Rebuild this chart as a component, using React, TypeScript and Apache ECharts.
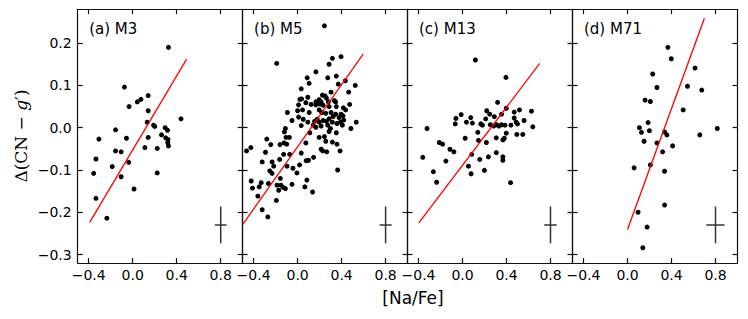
import React, { useEffect, useRef } from "react";
import * as echarts from "echarts";

const panelLabels = ["(a) M3", "(b) M5", "(c) M13", "(d) M71"];
const xTicks = [-0.4, 0, 0.4, 0.8];
const yTicks = [-0.3, -0.2, -0.1, 0, 0.1, 0.2];
const xRange = [-0.5, 1.0];
const yRange = [-0.32, 0.28];

const m3Data = [
  [0.325, 0.19], [-0.075, 0.096], [0.141, 0.076], [0.075, 0.067], [0.042, 0.061], [-0.033, 0.05],
  [0.141, 0.04], [0.439, 0.021], [0.132, 0.013], [0.19, 0.006], [0.2, 0.003], [0.295, 0.0],
  [0.316, -0.006], [-0.156, -0.005], [-0.307, -0.027], [-0.057, -0.025], [0.141, -0.023],
  [0.262, -0.017], [0.3, -0.024], [0.32, -0.028], [0.319, -0.035], [0.325, -0.043], [0.111, -0.047],
  [0.223, -0.049], [-0.156, -0.055], [-0.105, -0.057], [-0.334, -0.074], [-0.036, -0.082],
  [-0.186, -0.092], [-0.105, -0.116], [-0.355, -0.108], [0.223, -0.107], [0.012, -0.145],
  [-0.334, -0.167], [-0.235, -0.214],
];

const m5Data = [
  [0.244, 0.241], [0.316, 0.164], [0.395, 0.168],
  [-0.19, 0.152], [0.286, 0.15], [0.166, 0.132], [0.087, 0.118], [0.274, 0.118], [0.352, 0.122],
  [0.105, 0.105], [0.37, 0.103], [0.434, 0.111], [0.524, 0.1], [0.033, 0.092], [0.304, 0.084],
  [0.464, 0.084], [0.093, 0.072], [0.021, 0.067], [0.036, 0.068], [0.226, 0.077], [0.25, 0.075],
  [0.262, 0.07], [0.196, 0.066], [0.166, 0.061], [0.214, 0.061], [0.202, 0.056], [0.28, 0.061],
  [0.334, 0.064], [0.346, 0.061], [0.075, 0.059], [0.009, 0.054], [0.123, 0.055], [0.166, 0.054],
  [0.232, 0.053], [0.286, 0.05], [0.473, 0.055], [0.352, 0.05], [0.416, 0.047], [0.437, 0.042],
  [0.0, 0.04], [0.045, 0.042], [0.105, 0.036], [-0.093, 0.036], [0.196, 0.042], [0.22, 0.036],
  [0.256, 0.034], [0.304, 0.036], [0.346, 0.032], [0.395, 0.032], [0.322, 0.026], [0.377, 0.024],
  [0.413, 0.028], [0.009, 0.025], [0.051, 0.02], [-0.051, 0.017], [0.093, 0.013], [0.178, 0.02],
  [0.154, 0.015], [0.196, 0.013], [0.232, 0.017], [0.262, 0.015], [0.286, 0.021], [0.316, 0.013],
  [0.358, 0.01], [0.389, 0.013], [0.419, 0.018], [0.533, 0.013], [0.033, 0.005], [0.142, 0.006],
  [0.166, 0.001], [0.214, 0.004], [0.274, 0.006], [0.298, -0.002], [0.407, 0.006], [0.485, -0.002],
  [-0.111, -0.002], [-0.12, -0.01], [0.111, -0.012], [0.286, -0.009], [0.352, -0.012],
  [-0.105, -0.023], [-0.075, -0.023], [0.196, -0.023], [0.244, -0.021], [-0.28, -0.027],
  [-0.123, -0.036], [-0.099, -0.039], [-0.16, -0.04], [0.075, -0.036], [0.256, -0.032],
  [0.316, -0.034], [0.358, -0.039], [-0.244, -0.04], [-0.425, -0.047], [0.214, -0.051],
  [-0.464, -0.055], [-0.292, -0.058], [-0.127, -0.063], [-0.072, -0.063], [0.033, -0.06],
  [0.229, -0.055], [0.265, -0.057], [0.386, -0.055], [-0.163, -0.075], [0.145, -0.07],
  [0.099, -0.077], [0.078, -0.078], [-0.322, -0.081], [-0.232, -0.081], [-0.096, -0.091],
  [-0.042, -0.096], [0.018, -0.088], [-0.217, -0.091], [-0.253, -0.102], [-0.232, -0.108],
  [-0.006, -0.107], [0.364, -0.1], [-0.422, -0.126], [-0.331, -0.13], [-0.265, -0.132],
  [-0.157, -0.12], [-0.151, -0.136], [-0.051, -0.134], [0.084, -0.124], [-0.187, -0.136],
  [-0.41, -0.143], [-0.349, -0.14], [-0.133, -0.141], [-0.111, -0.144], [0.066, -0.14],
  [0.136, -0.152], [-0.172, -0.148], [-0.361, -0.162], [-0.193, -0.172], [-0.322, -0.194],
  [-0.271, -0.211],
];

const m13Data = [
  [0.117, 0.16], [0.395, 0.119],
  [0.319, 0.06], [0.398, 0.046], [0.518, 0.042], [-0.012, 0.031], [0.075, 0.024], [-0.06, 0.022],
  [-0.066, 0.009], [0.22, 0.04], [0.247, 0.032], [0.211, 0.021], [0.289, 0.026], [0.355, 0.032],
  [0.47, 0.037], [0.47, 0.023], [0.627, 0.039], [0.036, 0.013], [0.09, 0.011], [0.166, 0.009],
  [0.181, 0.006], [0.253, 0.007], [0.283, 0.004], [0.307, 0.007], [0.331, 0.004], [0.355, 0.007],
  [0.386, 0.006], [0.44, 0.006], [0.488, 0.013], [0.5, 0.009], [0.56, 0.017], [0.639, 0.002],
  [0.139, -0.011], [0.398, -0.013], [0.494, -0.016], [0.548, -0.016], [-0.322, -0.002],
  [0.024, -0.025], [0.145, -0.03], [0.217, -0.035], [0.307, -0.024], [0.367, -0.029],
  [0.38, -0.025], [-0.211, -0.035], [-0.181, -0.039], [-0.114, -0.051], [-0.078, -0.057],
  [-0.361, -0.07], [-0.151, -0.079], [0.084, -0.063], [0.157, -0.075], [0.235, -0.069],
  [0.307, -0.059], [0.367, -0.069], [0.367, -0.077], [0.054, -0.091], [0.199, -0.101],
  [-0.265, -0.104], [0.078, -0.109], [-0.235, -0.129], [0.437, -0.13],
];

const m71Data = [
  [0.367, 0.19], [0.398, 0.163], [0.229, 0.127], [0.614, 0.141], [0.268, 0.095], [0.545, 0.098],
  [0.675, 0.089], [0.16, 0.065], [0.208, 0.062], [0.506, 0.042], [0.187, 0.012], [0.108, 0.0],
  [0.816, -0.002], [0.199, -0.007], [0.127, -0.011], [0.337, -0.01], [0.358, -0.017],
  [0.657, -0.017], [0.151, -0.032], [0.268, -0.036], [0.41, -0.043], [0.319, -0.057],
  [0.06, -0.095], [0.208, -0.088], [0.337, -0.103], [0.337, -0.183], [0.096, -0.2],
  [0.178, -0.235], [0.139, -0.284],
];

const fitLines = [
  [[-0.391, -0.224], [0.49, 0.162]],
  [[-0.5, -0.229], [0.596, 0.174]],
  [[-0.397, -0.225], [0.702, 0.152]],
  [[0.0, -0.241], [0.699, 0.259]],
];

const errCenterX = [0.8, 0.8, 0.8, 0.8];
const errCenterY = [-0.23, -0.23, -0.23, -0.23];
const errHalfX = [0.053, 0.055, 0.057, 0.083];
const errHalfY = [0.0435, 0.0435, 0.0435, 0.0435];

const panelData = [m3Data, m5Data, m13Data, m71Data];

const fmt = (v: number) => (v < 0 ? "\u2212" + Math.abs(v).toFixed(1) : v.toFixed(1));

export default function App() {
  const ref = useRef<HTMLDivElement>(null);
  useEffect(() => {
    if (!ref.current) return;
    const chart = echarts.init(ref.current, undefined, { renderer: "svg" });
    const lefts = [77.7, 242.6, 407.5, 572.5];
    const pw = 165;
    const top = 9.3;
    const ph = 253.7;
    const axisLineStyle = { color: "#111", width: 1.2 };
    const grids: any[] = [];
    const xAxes: any[] = [];
    const yAxes: any[] = [];
    const series: any[] = [];
    const graphics: any[] = [];
    for (let i = 0; i < 4; i++) {
      grids.push({ left: lefts[i], top, width: pw, height: ph, containLabel: false });
      const baseX = {
        gridIndex: i, type: "value", min: xRange[0], max: xRange[1],
        axisLine: { show: true, onZero: false, lineStyle: axisLineStyle },
        axisTick: { show: true, inside: true, length: 5, customValues: xTicks, lineStyle: axisLineStyle },
        splitLine: { show: false },
      };
      xAxes.push({
        ...baseX, position: "bottom",
        axisLabel: {
          show: true, customValues: xTicks, formatter: fmt, fontSize: 14, color: "#000",
          fontFamily: "DejaVu Sans", margin: 5,
        },
      });
      xAxes.push({ ...baseX, position: "top", axisLabel: { show: false } });
      const baseY = {
        gridIndex: i, type: "value", min: yRange[0], max: yRange[1],
        axisLine: { show: true, onZero: false, lineStyle: axisLineStyle },
        axisTick: { show: true, inside: true, length: 5, customValues: yTicks, lineStyle: axisLineStyle },
        splitLine: { show: false },
      };
      yAxes.push({
        ...baseY, position: "left",
        axisLabel: {
          show: i === 0, customValues: yTicks, formatter: fmt, fontSize: 14, color: "#000",
          fontFamily: "DejaVu Sans", margin: 6,
        },
      });
      yAxes.push({ ...baseY, position: "right", axisLabel: { show: false } });

      series.push({
        type: "scatter", xAxisIndex: 2 * i, yAxisIndex: 2 * i, data: panelData[i],
        symbol: "circle", symbolSize: 5, itemStyle: { color: "#000", opacity: 1 }, silent: true,
      });
      series.push({
        type: "line", xAxisIndex: 2 * i, yAxisIndex: 2 * i, data: fitLines[i],
        showSymbol: false, symbol: "none", lineStyle: { color: "#ff0000", width: 1.3 }, clip: true, silent: true,
      });
      series.push({
        type: "line", xAxisIndex: 2 * i, yAxisIndex: 2 * i,
        data: [[errCenterX[i] - errHalfX[i], errCenterY[i]], [errCenterX[i] + errHalfX[i], errCenterY[i]]],
        showSymbol: false, symbol: "none", lineStyle: { color: "#333", width: 1.5 }, silent: true,
      });
      series.push({
        type: "line", xAxisIndex: 2 * i, yAxisIndex: 2 * i,
        data: [[errCenterX[i], errCenterY[i] - errHalfY[i]], [errCenterX[i], errCenterY[i] + errHalfY[i]]],
        showSymbol: false, symbol: "none", lineStyle: { color: "#333", width: 1.5 }, silent: true,
      });
      graphics.push({
        type: "text", left: lefts[i] + 11.5, top: 21,
        style: { text: panelLabels[i], font: "15px 'DejaVu Sans'", fill: "#000" },
      });
    }
    graphics.push({
      type: "text", x: 413, y: 298,
      style: { text: "[Na/Fe]", font: "17px 'DejaVu Sans'", fill: "#000", textAlign: "center", textVerticalAlign: "middle" },
    });
    graphics.push({
      type: "text", x: 21, y: 136, rotation: Math.PI / 2,
      style: {
        text: "{n|\u0394(CN \u2212 }{i|g}{n|\u2032)}",
        textAlign: "center", textVerticalAlign: "middle", fill: "#000",
        rich: {
          n: { fontFamily: "DejaVu Serif", fontSize: 17, fill: "#000" },
          i: { fontFamily: "DejaVu Serif", fontSize: 17, fontStyle: "italic", fill: "#000" },
        },
      },
    });
    chart.setOption({
      animation: false,
      grid: grids,
      xAxis: xAxes,
      yAxis: yAxes,
      series,
      graphic: graphics,
    });
    return () => chart.dispose();
  }, []);
  return <div ref={ref} style={{ position: "absolute", left: 0, top: 0, width: 748, height: 319, background: "#fff" }} />;
}
